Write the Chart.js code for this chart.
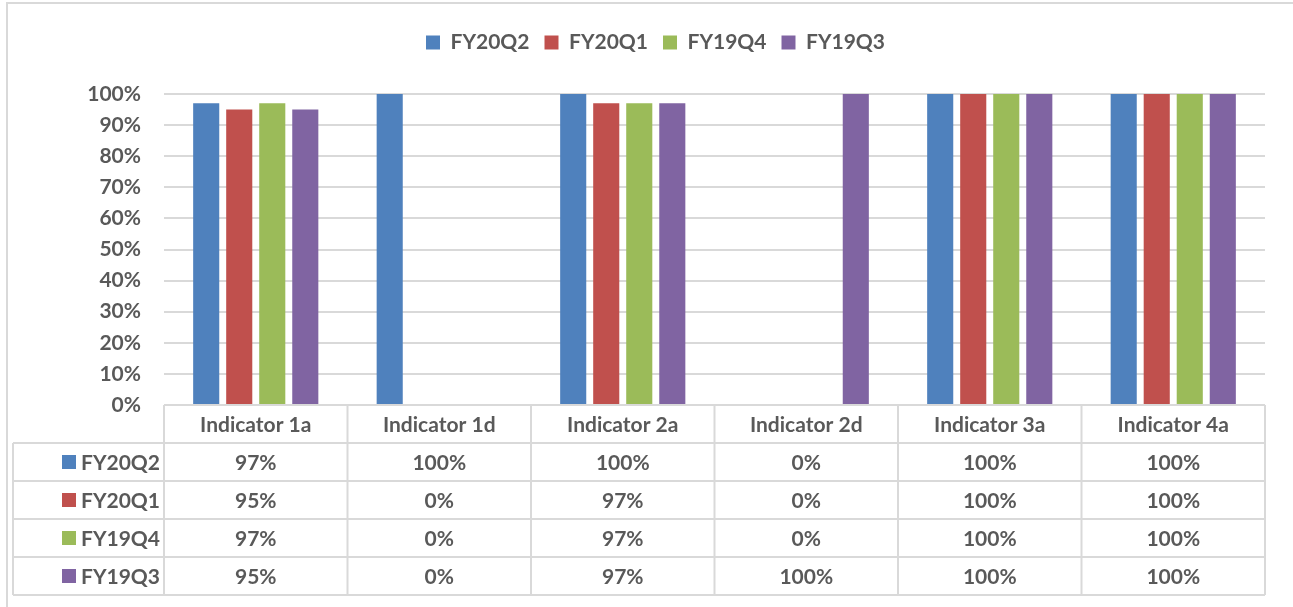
<!DOCTYPE html>
<html>
<head>
<meta charset="utf-8">
<script src="https://cdn.jsdelivr.net/npm/chart.js@4.4.1/dist/chart.umd.min.js"></script>
<style>
  html, body { margin: 0; padding: 0; background: #fff; }
  #wrap { position: relative; width: 1293px; height: 607px; }
</style>
</head>
<body>
<div id="wrap"><canvas id="barCanvas"></canvas></div>
<script>
const categories = ["Indicator 1a", "Indicator 1d", "Indicator 2a", "Indicator 2d", "Indicator 3a", "Indicator 4a"];
const seriesNames = ["FY20Q2", "FY20Q1", "FY19Q4", "FY19Q3"];
const fy20q2 = [97, 100, 100, 0, 100, 100];
const fy20q1 = [95, 0, 97, 0, 100, 100];
const fy19q4 = [97, 0, 97, 0, 100, 100];
const fy19q3 = [95, 0, 97, 100, 100, 100];
const seriesColors = ["#4F81BD", "#C0504D", "#9BBB59", "#8064A2"];
const yTicks = [0, 10, 20, 30, 40, 50, 60, 70, 80, 90, 100];

const textColor = "#595959";
const lineColor = "#D9D9D9";
const fontFamily = "Lato";

// draws the frame and the data table under the plot, using the x scale
const dataTable = {
    id: "dataTable",
    afterDraw(chart) {
        const ctx = chart.ctx;
        const x = chart.scales.x;
        const area = chart.chartArea;
        const n = categories.length;
        const colW = (x.right - x.left) / n;
        const rowH = 38;
        const top = area.bottom;
        const tableLeft = 13;
        const rows = chart.data.datasets;

        ctx.save();
        // outer frame
        ctx.strokeStyle = lineColor;
        ctx.lineWidth = 2;
        ctx.beginPath();
        ctx.moveTo(7, 607);
        ctx.lineTo(7, 3);
        ctx.lineTo(1293, 3);
        ctx.stroke();

        // table grid
        ctx.beginPath();
        ctx.moveTo(x.left, top);
        ctx.lineTo(x.right, top);
        for (let r = 1; r <= rows.length + 1; r++) {
            ctx.moveTo(tableLeft, top + r * rowH);
            ctx.lineTo(x.right, top + r * rowH);
        }
        ctx.moveTo(tableLeft, top + rowH);
        ctx.lineTo(tableLeft, top + (rows.length + 1) * rowH);
        for (let c = 0; c <= n; c++) {
            ctx.moveTo(x.left + c * colW, top);
            ctx.lineTo(x.left + c * colW, top + (rows.length + 1) * rowH);
        }
        ctx.stroke();

        ctx.fillStyle = textColor;
        ctx.font = "bold 21px " + fontFamily;
        ctx.textAlign = "center";
        ctx.textBaseline = "middle";
        categories.forEach((cat, i) => {
            ctx.fillText(cat, x.getPixelForValue(i), top + rowH / 2 + 1);
        });
        rows.forEach((ds, r) => {
            const cy = top + (r + 1) * rowH + rowH / 2 + 1;
            ds.data.forEach((v, i) => {
                ctx.fillStyle = textColor;
                ctx.textAlign = "center";
                ctx.fillText(v + "%", x.getPixelForValue(i), cy);
            });
            ctx.fillStyle = ds.backgroundColor;
            ctx.fillRect(62, cy - 8, 14, 14);
            ctx.fillStyle = textColor;
            ctx.textAlign = "left";
            ctx.fillText(ds.label, 81, cy);
        });
        ctx.restore();
    }
};

const barCanvas = document.getElementById("barCanvas");
const barChart = new Chart(barCanvas, {
    type: "bar",
    data: {
        labels: categories,
        datasets: [
            { label: seriesNames[0], data: fy20q2, backgroundColor: seriesColors[0] },
            { label: seriesNames[1], data: fy20q1, backgroundColor: seriesColors[1] },
            { label: seriesNames[2], data: fy19q4, backgroundColor: seriesColors[2] },
            { label: seriesNames[3], data: fy19q3, backgroundColor: seriesColors[3] }
        ]
    },
    options: {
        responsive: true,
        maintainAspectRatio: false,
        animation: false,
        categoryPercentage: 0.72,
        barPercentage: 0.79,
        layout: {
            padding: { top: 17, right: 28, bottom: 202, left: 46 }
        },
        plugins: {
            tooltip: { enabled: false },
            legend: {
                position: "top",
                labels: {
                    boxWidth: 14,
                    boxHeight: 14,
                    padding: 15,
                    color: textColor,
                    font: { family: fontFamily, size: 21, weight: "bold" }
                }
            }
        },
        scales: {
            x: {
                position: "top",
                afterFit(scale) { scale.height = 31; },
                grid: { display: false },
                border: { display: false },
                ticks: { display: false }
            },
            y: {
                min: 0,
                max: 100,
                afterFit(scale) { scale.width = 118; },
                afterBuildTicks(scale) { scale.ticks = yTicks.map(v => ({ value: v })); },
                border: { display: false },
                grid: { color: lineColor, lineWidth: 2, drawTicks: false },
                ticks: {
                    padding: 23,
                    color: textColor,
                    font: { family: fontFamily, size: 21, weight: "bold" },
                    callback: v => v + "%"
                }
            }
        }
    },
    plugins: [dataTable]
});
</script>
</body>
</html>
